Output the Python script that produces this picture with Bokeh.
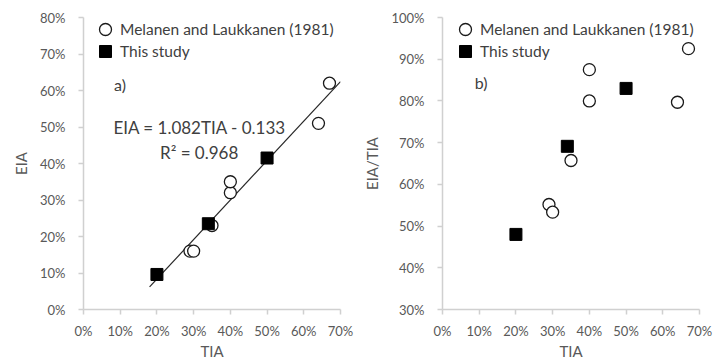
from bokeh.plotting import figure
from bokeh.layouts import row
from bokeh.models import (Range1d, FixedTicker, NumeralTickFormatter, Legend,
                          LegendItem, Label)
from bokeh.embed import file_html
from bokeh.resources import INLINE

# ---- data ----
mel_tia = [0.29, 0.30, 0.35, 0.40, 0.40, 0.64, 0.67]
mel_eia = [0.16, 0.16, 0.23, 0.32, 0.35, 0.51, 0.62]
this_tia = [0.20, 0.34, 0.50]
this_eia = [0.096, 0.235, 0.415]
fit_slope = 1.082
fit_intercept = -0.133
fit_x = [0.18, 0.70]
x_ticks = [0.0, 0.1, 0.2, 0.3, 0.4, 0.5, 0.6, 0.7]
ya_ticks = [0.0, 0.1, 0.2, 0.3, 0.4, 0.5, 0.6, 0.7, 0.8]
yb_ticks = [0.3, 0.4, 0.5, 0.6, 0.7, 0.8, 0.9, 1.0]
mel_label = "Melanen and Laukkanen (1981)"
this_label = "This study"

mel_ratio = [e / t for e, t in zip(mel_eia, mel_tia)]
this_ratio = [e / t for e, t in zip(this_eia, this_tia)]
fit_y = [fit_slope * x + fit_intercept for x in fit_x]

FONT = "Lato"
TICK_COLOR = "#595959"
TEXT_COLOR = "#404040"
AXIS_COLOR = "#d0d0d0"


def style(p, yticks):
    p.xaxis.ticker = FixedTicker(ticks=x_ticks)
    p.yaxis.ticker = FixedTicker(ticks=yticks)
    for ax in (p.xaxis, p.yaxis):
        ax.formatter = NumeralTickFormatter(format="0%")
        ax.axis_line_color = AXIS_COLOR
        ax.axis_line_width = 1.5
        ax.major_tick_line_color = AXIS_COLOR
        ax.major_tick_line_width = 1.5
        ax.major_tick_out = 5
        ax.major_tick_in = 0
        ax.minor_tick_line_color = None
        ax.major_label_text_font = FONT
        ax.major_label_text_font_size = "13px"
        ax.major_label_text_color = TICK_COLOR
        ax.axis_label_text_font = FONT
        ax.axis_label_text_font_size = "15px"
        ax.axis_label_text_font_style = "normal"
        ax.axis_label_text_color = TICK_COLOR
    p.yaxis.major_label_standoff = 13
    p.xaxis.major_label_standoff = 8
    p.xaxis.axis_label_standoff = 0
    p.yaxis.axis_label_standoff = 7
    p.xgrid.grid_line_color = None
    p.ygrid.grid_line_color = None
    p.outline_line_color = None
    p.background_fill_color = "white"
    p.border_fill_color = "white"


def add_legend_entry(p, renderer, label, loc):
    leg = Legend(items=[LegendItem(label=label, renderers=[renderer])],
                 location=loc, padding=0, margin=0, spacing=0,
                 glyph_width=30, glyph_height=30, label_height=30,
                 label_standoff=-3, label_text_font=FONT,
                 label_text_font_size="15.5px", label_text_color=TEXT_COLOR,
                 background_fill_alpha=0, border_line_color=None)
    p.add_layout(leg)


# ---- panel a ----
pa = figure(width=357, height=358, frame_width=257, frame_height=292,
            min_border_left=83, min_border_top=17, min_border_right=17,
            min_border_bottom=49,
            x_range=Range1d(0, 0.7), y_range=Range1d(0, 0.8),
            output_backend="svg", toolbar_location=None,
            x_axis_label="TIA", y_axis_label="EIA")
style(pa, ya_ticks)
pa.line(fit_x, fit_y, line_color="#262626", line_width=1.2)
ra_mel = pa.scatter(mel_tia, mel_eia, marker="circle", size=12,
                    fill_color="white", line_color="#1a1a1a", line_width=1.3)
ra_this = pa.scatter(this_tia, this_eia, marker="square", size=12,
                     fill_color="black", line_color="black")
add_legend_entry(pa, ra_mel, mel_label, (7, 265))
add_legend_entry(pa, ra_this, this_label, (7, 243))
pa.add_layout(Label(x=0.083, y=0.616, text="a)", text_font=FONT,
                    text_font_size="16px", text_color=TEXT_COLOR,
                    text_baseline="middle"))
pa.add_layout(Label(x=0.317, y=0.499, text="EIA = 1.082TIA - 0.133",
                    text_font=FONT, text_font_size="17px",
                    text_color=TEXT_COLOR, text_align="center",
                    text_baseline="middle"))
pa.add_layout(Label(x=0.315, y=0.431, text="R² = 0.968",
                    text_font=FONT, text_font_size="17px",
                    text_color=TEXT_COLOR, text_align="center",
                    text_baseline="middle"))

# ---- panel b ----
pb = figure(width=358, height=358, frame_width=257, frame_height=292,
            min_border_left=85, min_border_top=17, min_border_right=16,
            min_border_bottom=49,
            x_range=Range1d(0, 0.7), y_range=Range1d(0.3, 1.0),
            output_backend="svg", toolbar_location=None,
            x_axis_label="TIA", y_axis_label="EIA/TIA")
style(pb, yb_ticks)
rb_mel = pb.scatter(mel_tia, mel_ratio, marker="circle", size=12,
                    fill_color="white", line_color="#1a1a1a", line_width=1.3)
rb_this = pb.scatter(this_tia, this_ratio, marker="square", size=12,
                     fill_color="black", line_color="black")
add_legend_entry(pb, rb_mel, mel_label, (8, 265))
add_legend_entry(pb, rb_this, this_label, (8, 243))
pb.add_layout(Label(x=0.088, y=0.844, text="b)", text_font=FONT,
                    text_font_size="16px", text_color=TEXT_COLOR,
                    text_baseline="middle"))

layout = row(pa, pb)
open("out.html", "w").write(file_html(layout, INLINE))
